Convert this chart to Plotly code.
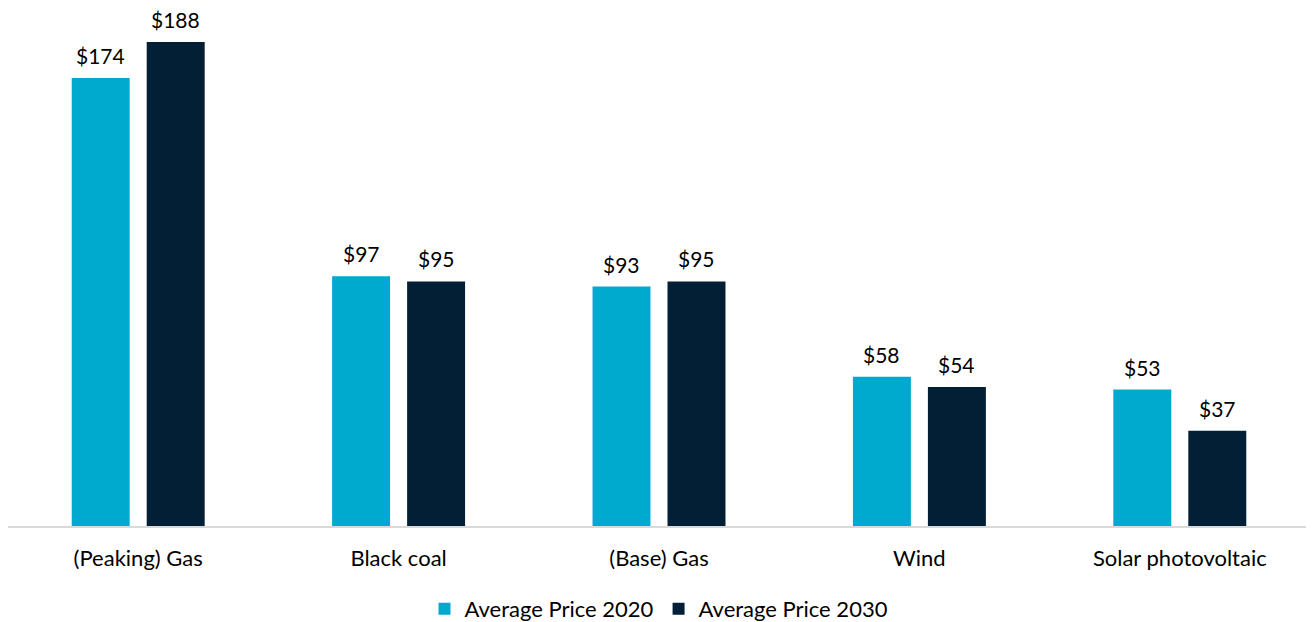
import plotly.graph_objects as go

categories = ["(Peaking) Gas", "Black coal", "(Base) Gas", "Wind", "Solar photovoltaic"]
price_2020 = [174, 97, 93, 58, 53]
price_2030 = [188, 95, 95, 54, 37]
series_names = ["Average Price 2020", "Average Price 2030"]
colors = ["#00A9CE", "#021F35"]

FONT = "Lato, 'Open Sans', sans-serif"

fig = go.Figure()
for name, vals, col in zip(series_names, [price_2020, price_2030], colors):
    fig.add_trace(go.Bar(
        x=categories, y=vals, name=name, marker=dict(color=col, line=dict(width=0)),
        offsetgroup=name,
    ))

# value labels as annotations above bars
slot = 0.144  # half the centre-to-centre distance in category units
for i, vals in enumerate([price_2020, price_2030]):
    off = -slot if i == 0 else slot
    for j, v in enumerate(vals):
        fig.add_annotation(x=j + off, y=v, text=f"${v}", showarrow=False,
                           yanchor="bottom", yshift=8, xref="x", yref="y",
                           font=dict(size=21, color="#000000", family=FONT))

fig.update_layout(
    width=1314, height=622,
    margin=dict(l=0, r=12, t=3, b=104),
    paper_bgcolor="white", plot_bgcolor="white",
    barmode="group", bargap=0.424, bargroupgap=0.227,
    font=dict(family=FONT, size=21, color="#000000"),
    showlegend=True,
    legend=dict(orientation="h", x=0.5, xanchor="center", y=-0.161, yanchor="middle",
                font=dict(size=22, family=FONT), itemwidth=30, traceorder="normal"),
    xaxis=dict(showgrid=False, showline=True, linecolor="#D9D9D9", linewidth=2,
               ticks="", tickfont=dict(size=22, family=FONT), ticklabelstandoff=12,
               range=[-0.5, 4.5]),
    yaxis=dict(visible=False, range=[0, 200], showgrid=False, zeroline=False),
)

fig.write_html("out.html")
